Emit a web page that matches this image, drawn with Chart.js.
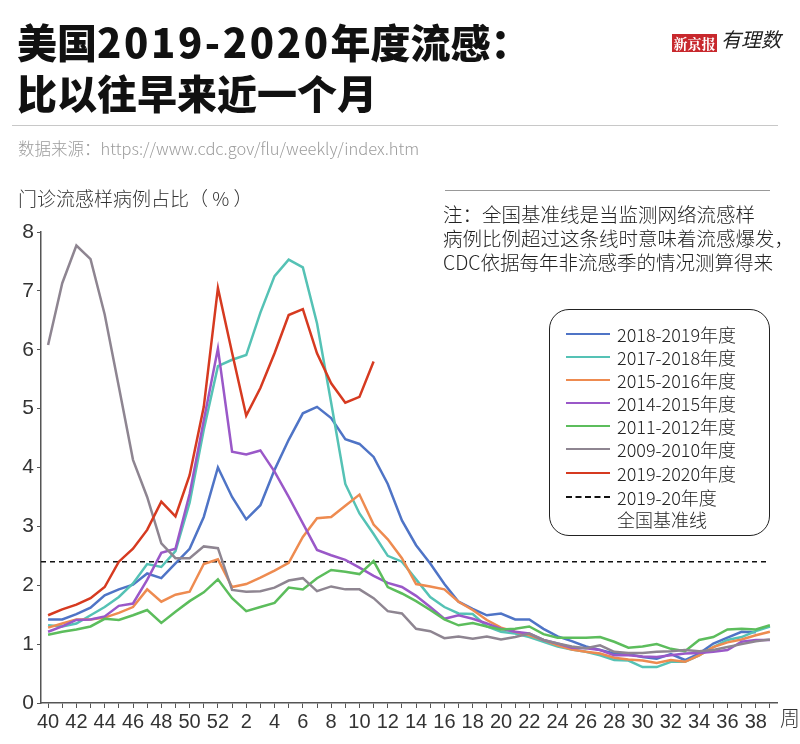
<!DOCTYPE html>
<html>
<head>
<meta charset="utf-8">
<script src="https://cdn.jsdelivr.net/npm/chart.js@4.4.1/dist/chart.umd.min.js"></script>
<style>
  body { margin:0; background:#fff; }
  #wrap { position:relative; width:800px; height:744px; overflow:hidden; font-family:"Noto Sans CJK SC","Liberation Sans",sans-serif; }
  #c { position:absolute; left:0; top:0; }
  .t { position:absolute; white-space:nowrap; }
  .title { font-size:40px; font-weight:900; line-height:40px; color:#111; left:17px; }
  .title b { font-weight:900; letter-spacing:2.6px; }
  .rule { position:absolute; height:0; border-top:1px solid #c8c8c8; }
  .leg { position:absolute; left:549px; top:309px; width:219px; height:225px; border:1.5px solid #222; border-radius:20px; }
  .row { position:absolute; left:16px; height:22px; font-size:18px; line-height:22px; color:#222; font-weight:300; }
  .row i { position:absolute; left:0; top:10px; width:44px; height:0; border-top:2.5px solid; }
  .row span { position:absolute; left:51px; top:0; white-space:nowrap; }
</style>
</head>
<body>
<div id="wrap">
  <canvas id="c" width="800" height="744"></canvas>
  <div class="t title" style="top:21px">美国<b>2019-2020</b>年度流感：</div>
  <div class="t title" style="top:72px">比以往早来近一个月</div>
  <div class="t" style="left:672px;top:34px;width:45px;height:18px;background:#c8282d;color:#fff;font:bold 14px/18px 'Noto Serif CJK SC','Noto Sans CJK SC',serif;text-align:center;">新京报</div>
  <div class="t" style="left:721px;top:27px;font-size:20px;line-height:24px;font-style:italic;color:#222;">有理数</div>
  <div class="rule" style="left:12px;top:125px;width:766px;"></div>
  <div class="t" style="left:18px;top:137px;font-size:16.5px;line-height:22px;color:#9c9c9c;font-weight:300;">数据来源：https://www.cdc.gov/flu/weekly/index.htm</div>
  <div class="t" style="left:18px;top:186px;font-size:19px;line-height:24px;color:#333;font-weight:300;">门诊流感样病例占比（ % ）</div>
  <div class="rule" style="left:445px;top:190px;width:325px;border-color:#999;"></div>
  <div class="t" style="left:443px;top:202px;font-size:19.5px;line-height:24px;color:#222;font-weight:300;">注：全国基准线是当监测网络流感样<br>病例比例超过这条线时意味着流感爆发，<br>CDC依据每年非流感季的情况测算得来</div>
  <div class="t" style="left:780px;top:706px;font-size:20px;line-height:24px;color:#333;font-weight:300;">周</div>
  <div class="leg" id="leg"></div>
</div>
<script>
// weeks 40..52 then 1..39
const weeks = [40,41,42,43,44,45,46,47,48,49,50,51,52,1,2,3,4,5,6,7,8,9,10,11,12,13,14,15,16,17,18,19,20,21,22,23,24,25,26,27,28,29,30,31,32,33,34,35,36,37,38,39];

const s1819 = [1.42,1.42,1.51,1.62,1.83,1.93,2.01,2.20,2.12,2.37,2.62,3.16,4.00,3.50,3.12,3.36,3.96,4.47,4.92,5.03,4.84,4.48,4.40,4.18,3.72,3.10,2.68,2.37,2.02,1.72,1.60,1.49,1.52,1.42,1.42,1.26,1.13,1.05,0.96,0.90,0.84,0.83,0.78,0.75,0.83,0.73,0.84,1.01,1.11,1.21,1.20,null];
const s1718 = [1.32,1.30,1.35,1.49,1.63,1.80,2.03,2.36,2.31,2.58,3.40,4.64,5.72,5.83,5.91,6.63,7.25,7.53,7.40,6.45,5.10,3.72,3.22,2.87,2.50,2.40,2.10,1.80,1.63,1.52,1.51,1.30,1.21,1.18,1.12,1.04,0.96,0.91,0.87,0.81,0.73,0.72,0.61,0.61,0.70,0.70,0.81,0.95,1.07,1.12,1.22,1.30];
const s1516 = [1.28,1.35,1.42,1.42,1.45,1.53,1.63,1.93,1.72,1.84,1.89,2.36,2.44,1.97,2.02,2.13,2.25,2.38,2.82,3.14,3.16,3.35,3.54,3.03,2.78,2.46,2.02,1.98,1.93,1.72,1.58,1.41,1.28,1.21,1.15,1.07,0.98,0.91,0.87,0.84,0.77,0.74,0.72,0.68,0.73,0.70,0.81,0.95,1.03,1.08,1.15,1.21];
const s1415 = [1.21,1.30,1.41,1.42,1.47,1.65,1.69,2.09,2.55,2.62,3.55,4.80,6.02,4.27,4.22,4.29,3.93,3.50,3.05,2.60,2.51,2.43,2.30,2.16,2.04,1.97,1.82,1.63,1.43,1.49,1.43,1.35,1.26,1.21,1.18,1.07,1.01,0.94,0.93,0.90,0.81,0.81,0.79,0.78,0.81,0.84,0.85,0.87,0.90,1.04,1.07,1.07];
const s1112 = [1.16,1.21,1.25,1.30,1.43,1.41,1.49,1.58,1.36,1.55,1.73,1.88,2.10,1.78,1.56,1.63,1.70,1.96,1.93,2.12,2.26,2.23,2.19,2.41,1.97,1.86,1.73,1.58,1.42,1.32,1.36,1.30,1.25,1.26,1.30,1.17,1.11,1.11,1.11,1.12,1.04,0.94,0.96,1.00,0.92,0.88,1.07,1.12,1.25,1.26,1.25,1.32];
const s0910 = [6.08,7.13,7.77,7.54,6.60,5.37,4.13,3.50,2.71,2.46,2.46,2.66,2.63,1.92,1.89,1.90,1.96,2.08,2.12,1.90,1.98,1.93,1.93,1.78,1.56,1.52,1.26,1.22,1.10,1.13,1.09,1.13,1.08,1.12,1.18,1.07,1.01,0.96,0.93,0.98,0.87,0.85,0.85,0.87,0.88,0.90,0.88,0.90,0.95,1.00,1.05,1.08];
const s1920 = [1.49,1.59,1.67,1.78,1.97,2.40,2.62,2.94,3.42,3.17,3.87,5.03,7.05,5.95,4.88,5.35,5.94,6.59,6.69,5.94,5.43,5.10,5.20,5.80];
const baseline = 2.4;

const seriesNames = ['2018-2019年度','2017-2018年度','2015-2016年度','2014-2015年度','2011-2012年度','2009-2010年度','2019-2020年度'];
const seriesData = [s1819, s1718, s1516, s1415, s1112, s0910, s1920];
const seriesColors = ['#4f74c6','#55c2b5','#ee8b50','#9a58c8','#5cbd5c','#8e8591','#d63a20'];
const yTicks = [0,1,2,3,4,5,6,7,8];

// custom legend
const leg = document.getElementById('leg');
const rowTops = [13, 36, 59, 82, 105, 128, 152];
seriesNames.forEach(function(n, i){
  let r = document.createElement('div');
  r.className = 'row';
  r.style.top = rowTops[i] + 'px';
  r.innerHTML = '<i style="border-color:' + seriesColors[i] + '"></i><span>' + n + '</span>';
  leg.appendChild(r);
});
let br = document.createElement('div');
br.className = 'row';
br.style.top = '176px';
br.innerHTML = '<i style="border-top:2px dashed #111"></i><span>2019-20年度<br>全国基准线</span>';
leg.appendChild(br);

const baselinePlugin = {
  id: 'baseline',
  beforeDatasetsDraw(chart) {
    const ctx = chart.ctx, x = chart.scales.x, y = chart.scales.y;
    const py = y.getPixelForValue(baseline);
    ctx.save();
    ctx.strokeStyle = '#111';
    ctx.lineWidth = 1.5;
    ctx.setLineDash([5,4]);
    ctx.beginPath();
    ctx.moveTo(chart.chartArea.left, py);
    ctx.lineTo(x.getPixelForValue(weeks.length - 1), py);
    ctx.stroke();
    ctx.restore();
  }
};

const datasets = seriesData.map(function(d, i){
  return {
    label: seriesNames[i],
    data: d,
    borderColor: seriesColors[i],
    borderWidth: 2.5,
    pointRadius: 0,
    tension: 0,
    fill: false,
    order: i == 6 ? 0 : 7 - i
  };
});

new Chart('c', {
  type: 'line',
  data: { labels: weeks, datasets: datasets },
  plugins: [baselinePlugin],
  options: {
    responsive: false,
    animation: false,
    layout: { padding: { left: 0, right: 23, top: 232, bottom: 0 } },
    plugins: { legend: { display: false }, tooltip: { enabled: false } },
    scales: {
      x: {
        offset: true,
        border: { display: true, color: '#555', width: 1.5 },
        grid: { drawOnChartArea: false, tickLength: 5, color: '#555', offset: false },
        ticks: {
          autoSkip: false, maxRotation: 0, padding: 2, color: '#333',
          font: { family: 'Liberation Sans', size: 20 },
          callback: function(v, i){ return weeks[i] % 2 == 0 ? String(weeks[i]) : ''; }
        },
        afterFit: function(s){ s.height = 41; }
      },
      y: {
        min: 0, max: 8,
        afterBuildTicks: function(s){ s.ticks = yTicks.map(function(v){ return {value: v}; }); },
        border: { display: true, color: '#555', width: 1.5 },
        grid: { drawOnChartArea: false, tickLength: 4, color: '#555' },
        ticks: { padding: 3, color: '#333', font: { family: 'Liberation Sans', size: 21 } },
        afterFit: function(s){ s.width = 41; }
      }
    }
  }
});
</script>
</body>
</html>
